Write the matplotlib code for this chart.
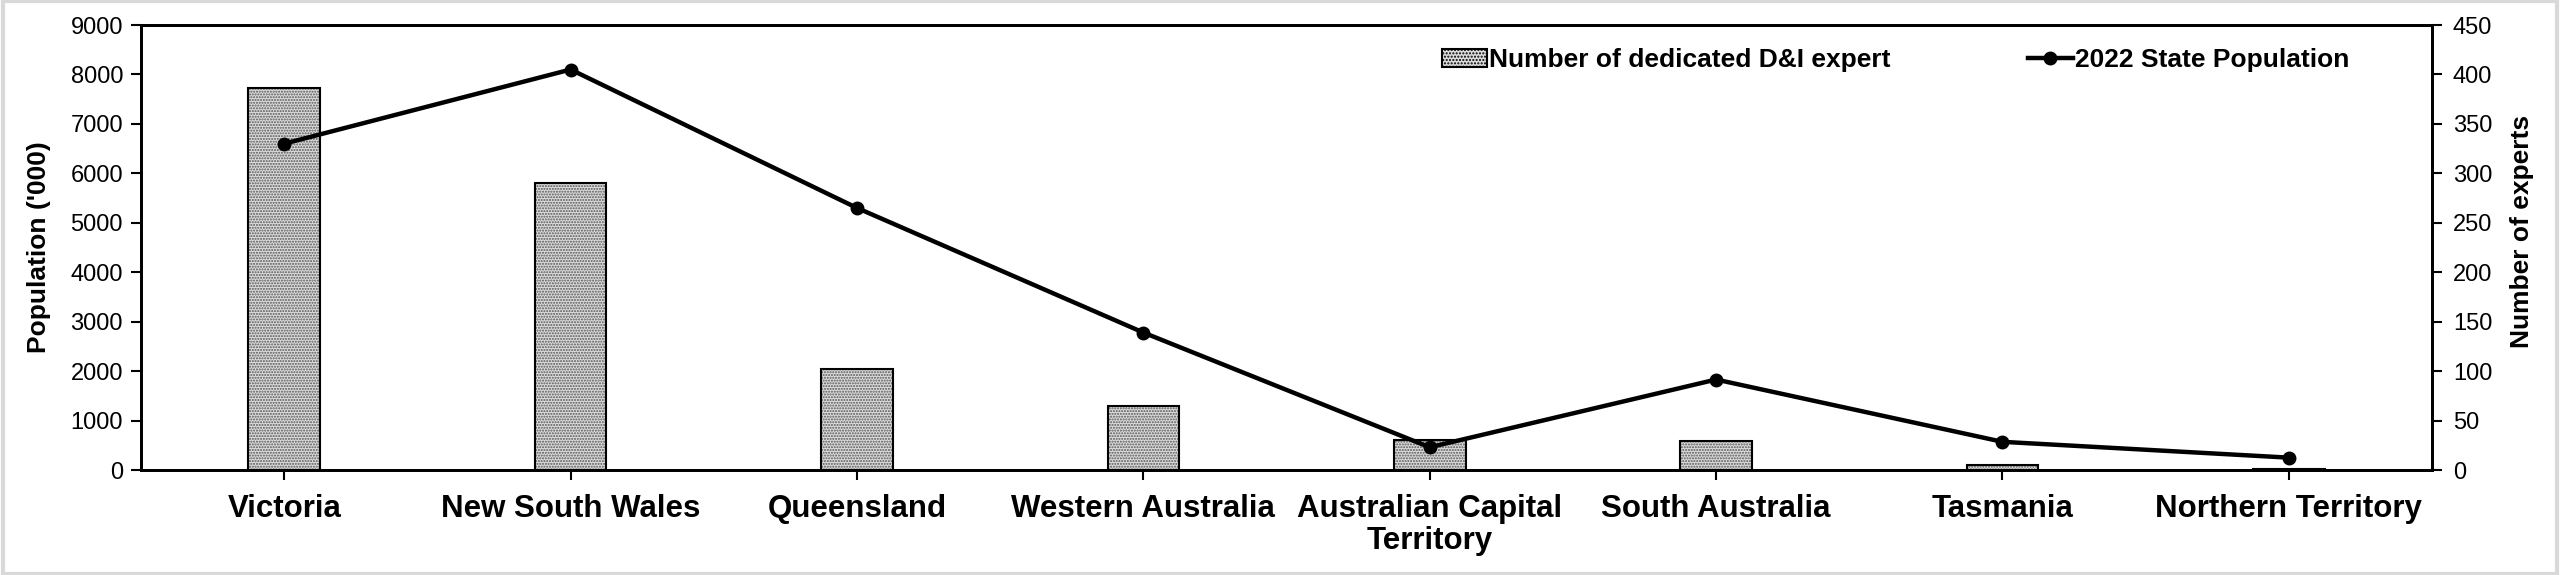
import matplotlib
matplotlib.use('Agg')
import matplotlib.pyplot as plt
from matplotlib.patches import Patch, Rectangle
from matplotlib.lines import Line2D
import numpy as np

plt.rcParams['font.family'] = ['Liberation Sans', 'DejaVu Sans']

states = ['Victoria', 'New South Wales', 'Queensland', 'Western Australia',
          'Australian Capital\nTerritory', 'South Australia', 'Tasmania',
          'Northern Territory']
experts = [386, 290, 102, 65, 30, 29, 5, 1]
population = [6600, 8100, 5300, 2780, 460, 1830, 570, 250]

x = np.arange(len(states))

fig = plt.figure(figsize=(25.6, 5.75), dpi=100)
ax = fig.add_axes([0.0551, 0.1826, 0.8949, 0.7739])
ax2 = ax.twinx()

# bars (right axis): dotted fill first, black outline on top
bar_face = '#dcdcdc'
ax2.bar(x, experts, width=0.25, color=bar_face, edgecolor='#555555',
        hatch='......', linewidth=0)
ax2.bar(x, experts, width=0.25, fill=False, edgecolor='black', linewidth=1.5)

# line (left axis) drawn above the bars
ax.set_zorder(ax2.get_zorder() + 1)
ax.patch.set_visible(False)
ax.plot(x, population, color='black', lw=3.2, marker='o', markersize=9)

ax.set_xlim(-0.5, len(states) - 0.5)
ax.set_ylim(0, 9000)
ax2.set_ylim(0, 450)
ax.set_yticks(np.arange(0, 9001, 1000))
ax2.set_yticks(np.arange(0, 451, 50))

ax.set_xticks(x)
ax.set_xticklabels(states, fontsize=22.5, fontweight='bold', linespacing=1.1)
ax.tick_params(axis='x', length=7, width=1.5, pad=10)
ax.tick_params(axis='y', labelsize=17, length=7, width=1.5, pad=6)
ax2.tick_params(axis='y', labelsize=17, length=7, width=1.5, pad=8)

for a in (ax, ax2):
    for s in a.spines.values():
        s.set_linewidth(2)

ax.set_ylabel("Population ('000)", fontsize=19, fontweight='bold', labelpad=14)
ax2.set_ylabel('Number of experts', fontsize=19, fontweight='bold')
ax2.yaxis.set_label_coords(1.034, 0.535)

handles = [Patch(facecolor=bar_face, edgecolor='black', hatch='.....', linewidth=1.5),
           Line2D([0], [0], color='black', lw=3.2, marker='o', markersize=9)]
labels = ['Number of dedicated D&I expert', '2022 State Population']
leg = ax.legend(handles, labels, loc='center left', bbox_to_anchor=(0.562, 0.921),
                ncol=2, frameon=False, borderpad=0, handlelength=1.7,
                handletextpad=0.1, columnspacing=5.2,
                prop={'size': 19, 'weight': 'bold'})

fig.patches.append(Rectangle((0.001, 0.002), 0.998, 0.996, transform=fig.transFigure,
                             fill=False, edgecolor='#d9d9d9', linewidth=3))

fig.savefig('out.png', dpi=100)
